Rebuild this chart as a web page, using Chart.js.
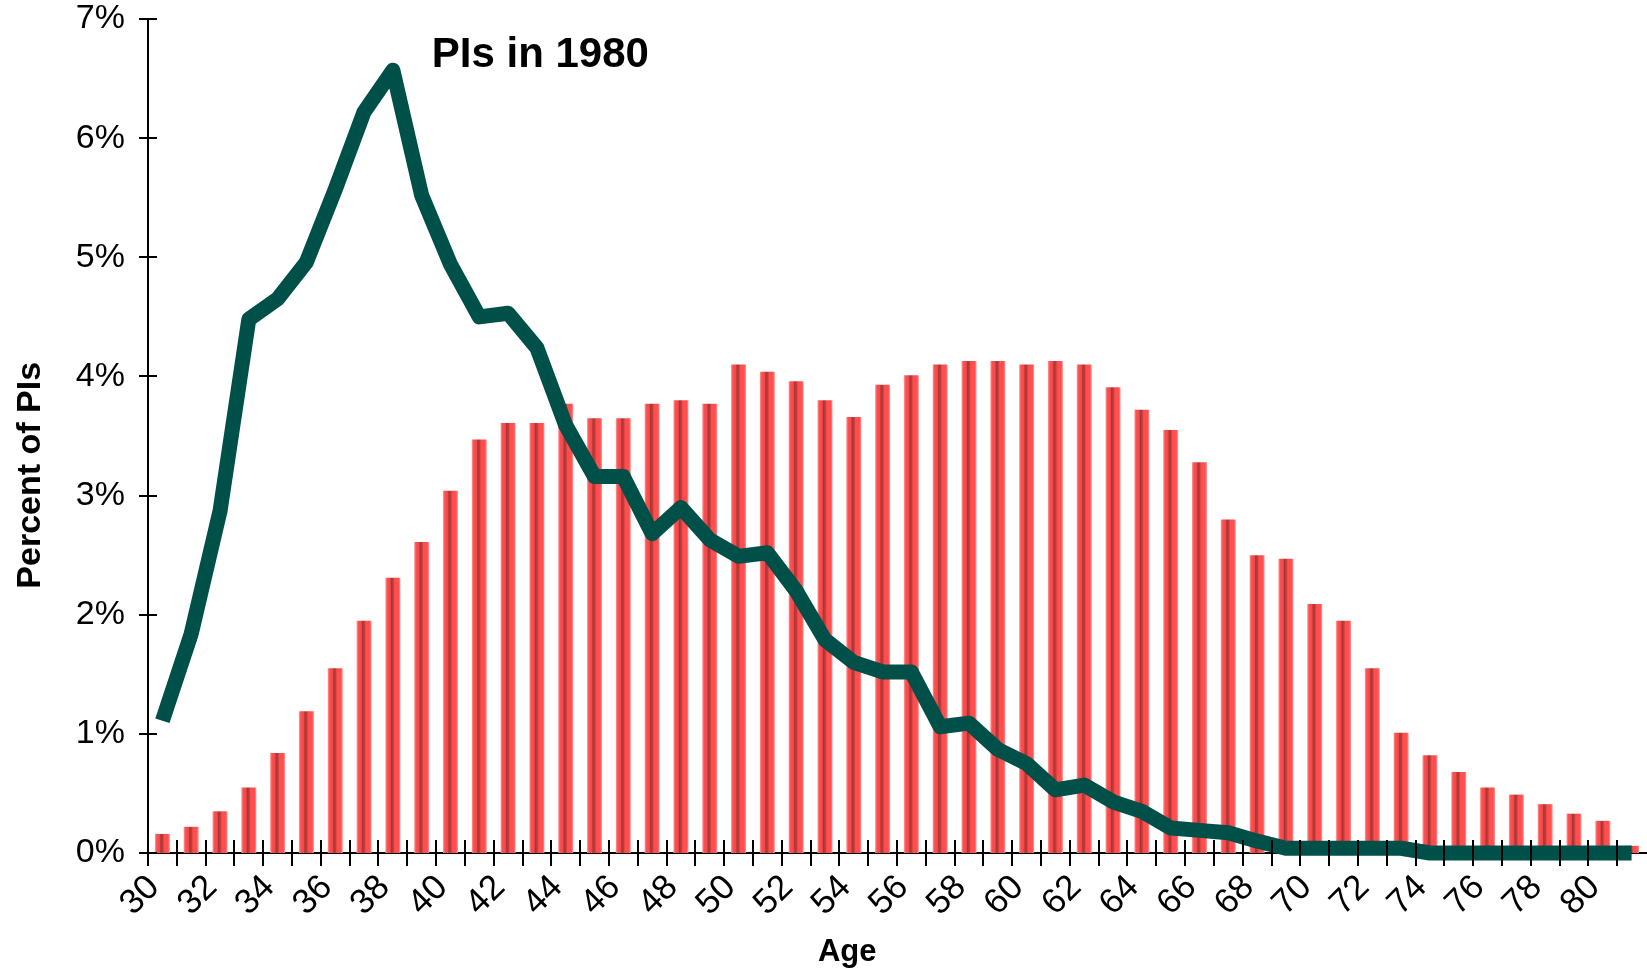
<!DOCTYPE html>
<html>
<head>
<meta charset="utf-8">
<script src="https://cdn.jsdelivr.net/npm/chart.js@4"></script>
<style>
  html, body { margin: 0; padding: 0; background: #fff; }
  #wrap { width: 1647px; height: 971px; }
</style>
</head>
<body>
<div id="wrap"><canvas id="myChart"></canvas></div>
<script>
const ages = [30, 31, 32, 33, 34, 35, 36, 37, 38, 39,
  40, 41, 42, 43, 44, 45, 46, 47, 48, 49,
  50, 51, 52, 53, 54, 55, 56, 57, 58, 59,
  60, 61, 62, 63, 64, 65, 66, 67, 68, 69,
  70, 71, 72, 73, 74, 75, 76, 77, 78, 79,
  80, 81];

// bars: share of PIs by age (recent year)
const pctNow = [0.16, 0.22, 0.35, 0.55, 0.84, 1.19, 1.55, 1.95, 2.31, 2.61,
  3.04, 3.47, 3.61, 3.61, 3.77, 3.65, 3.65, 3.77, 3.80, 3.77,
  4.10, 4.04, 3.96, 3.80, 3.66, 3.93, 4.01, 4.10, 4.13, 4.13,
  4.10, 4.13, 4.10, 3.91, 3.72, 3.55, 3.28, 2.80, 2.50, 2.47,
  2.09, 1.95, 1.55, 1.01, 0.82, 0.68, 0.55, 0.49, 0.41, 0.33,
  0.27, 0.06];

// line: share of PIs by age in 1980
const pct1980 = [1.11, 1.84, 2.87, 4.48, 4.65, 4.96, 5.57, 6.22, 6.57, 5.52,
  4.94, 4.50, 4.53, 4.24, 3.59, 3.16, 3.16, 2.68, 2.90, 2.63,
  2.49, 2.52, 2.20, 1.79, 1.60, 1.52, 1.52, 1.06, 1.09, 0.87,
  0.75, 0.53, 0.57, 0.43, 0.35, 0.21, 0.19, 0.17, 0.10, 0.04,
  0.04, 0.04, 0.04, 0.04, 0.00, 0.00, 0.00, 0.00, 0.00, 0.00,
  0.00, 0.00];

const lineLabel = 'PIs in 1980';
const yTitle = 'Percent of PIs';
const xTitle = 'Age';

const FONT = '"Liberation Sans", Arial, Helvetica, sans-serif';
Chart.defaults.font.family = FONT;
Chart.defaults.color = '#000';

// each age sits in the middle of its one-year bin
const toPoints = vals => ages.map((a, i) => ({ x: a + 0.5, y: vals[i] }));

function barFill(c) {
  const chart = c.chart;
  const xs = chart.scales && chart.scales.x;
  if (!xs || c.type !== 'data' || !c.raw) return '#ff4d4d';
  const cx = xs.getPixelForValue(c.raw.x);
  if (!Number.isFinite(cx)) return '#ff4d4d';
  const g = chart.ctx.createLinearGradient(cx - 7.5, 0, cx + 7.5, 0);
  g.addColorStop(0, '#ff9c9c');
  g.addColorStop(0.12, '#ff5050');
  g.addColorStop(0.32, '#f04848');
  g.addColorStop(0.40, '#a83434');
  g.addColorStop(0.52, '#c03c3c');
  g.addColorStop(0.62, '#ff4d4d');
  g.addColorStop(0.88, '#ff5050');
  g.addColorStop(1, '#ff9c9c');
  return g;
}

// tick marks that cross the axis lines, axis titles and the line's label
const crossTicks = {
  id: 'crossTicks',
  afterDraw(chart) {
    const { ctx, scales: { x, y } } = chart;
    ctx.save();
    ctx.strokeStyle = '#000';
    ctx.lineWidth = 2;
    ctx.beginPath();
    x.ticks.forEach(t => {
      if (t.value > 81) return;
      const px = Math.round(x.getPixelForValue(t.value));
      ctx.moveTo(px, y.bottom - 13);
      ctx.lineTo(px, y.bottom + 13);
    });
    y.ticks.forEach(t => {
      const py = Math.round(y.getPixelForValue(t.value));
      ctx.moveTo(x.left - 9, py);
      ctx.lineTo(x.left + 9, py);
    });
    ctx.stroke();

    ctx.fillStyle = '#000';
    ctx.font = 'bold 42px ' + FONT;
    ctx.textAlign = 'left';
    ctx.textBaseline = 'alphabetic';
    ctx.fillText(lineLabel, x.getPixelForValue(39.85), y.getPixelForValue(6.6));

    ctx.textAlign = 'center';
    ctx.textBaseline = 'middle';
    ctx.font = 'bold 31px ' + FONT;
    ctx.fillText(xTitle, x.getPixelForValue(54.27), chart.height - 19);

    ctx.translate(31, y.getPixelForValue(3.17));
    ctx.rotate(-Math.PI / 2);
    ctx.font = 'bold 34px ' + FONT;
    ctx.fillText(yTitle, 0, 0);
    ctx.restore();
  }
};

const ctx = document.getElementById('myChart').getContext('2d');
const myChart = new Chart(ctx, {
  type: 'bar',
  data: {
    datasets: [{
      type: 'line',
      label: lineLabel,
      data: toPoints(pct1980),
      borderColor: '#00504a',
      borderWidth: 15,
      borderCapStyle: 'butt',
      borderJoinStyle: 'round',
      pointRadius: 0,
      tension: 0,
      clip: false,
      order: 0
    }, {
      label: 'PIs now',
      data: toPoints(pctNow),
      backgroundColor: barFill,
      borderWidth: 0,
      barPercentage: 0.52,
      categoryPercentage: 1,
      order: 1
    }]
  },
  plugins: [crossTicks],
  options: {
    responsive: true,
    maintainAspectRatio: false,
    animation: false,
    events: [],
    layout: { padding: { top: 19, right: 1, left: 0, bottom: 0 } },
    plugins: {
      legend: { display: false },
      tooltip: { enabled: false }
    },
    scales: {
      x: {
        type: 'linear',
        min: 30,
        max: 82,
        offset: false,
        grid: { display: false, drawTicks: false },
        border: { display: true, color: '#000', width: 2 },
        ticks: {
          stepSize: 1,
          autoSkip: false,
          minRotation: 45,
          maxRotation: 45,
          padding: 14,
          labelOffset: 6,
          font: { size: 35 },
          callback: v => (v % 2 === 0 && v <= 80) ? String(v) : ''
        },
        afterFit: s => {
          s.height = 118;
          s.paddingLeft = 0;
          s.paddingRight = 0;
        }
      },
      y: {
        min: 0,
        max: 7,
        grid: { display: false, drawTicks: false },
        border: { display: true, color: '#000', width: 2 },
        ticks: {
          stepSize: 1,
          padding: 23,
          font: { size: 34 },
          callback: v => v + '%'
        },
        afterFit: s => {
          s.width = 148;
          s.paddingTop = 0;
          s.paddingBottom = 0;
        }
      }
    }
  }
});
</script>
</body>
</html>
